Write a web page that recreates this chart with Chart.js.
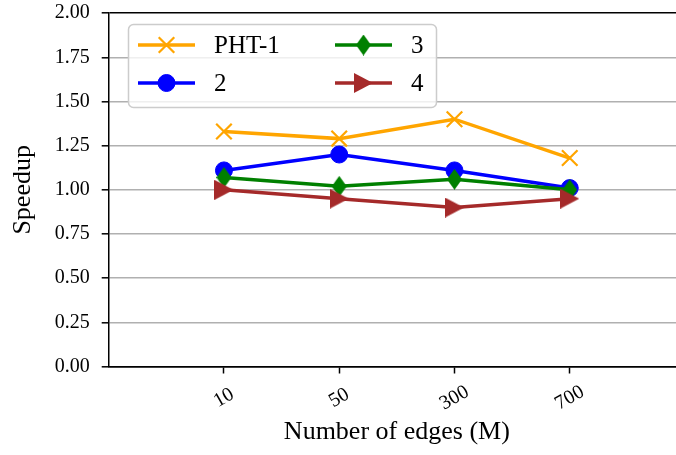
<!DOCTYPE html>
<html>
<head>
<meta charset="utf-8">
<script src="https://cdn.jsdelivr.net/npm/chart.js@4"></script>
<style>
  html, body { margin: 0; padding: 0; background: #fff; overflow: hidden; }
  #wrap { width: 700px; height: 455px; }
</style>
</head>
<body>
<div id="wrap"><canvas id="speedup" width="700" height="455"></canvas></div>
<script>
// edge counts (millions) and their positions on the x axis
const EDGE_LABELS = ['10', '50', '300', '700'];
const EDGE_POS = [1, 2, 3, 4];
const Y_TICKS = [0, 0.25, 0.5, 0.75, 1, 1.25, 1.5, 1.75, 2];

// speedup per configuration
const PHT1 = [1.33, 1.29, 1.40, 1.18];
const SP2 = [1.11, 1.20, 1.11, 1.01];
const SP3 = [1.07, 1.02, 1.06, 1.00];
const SP4 = [1.00, 0.95, 0.90, 0.95];

const SERIF = '"Liberation Serif", "DejaVu Serif", serif';
Chart.defaults.font.family = SERIF;
Chart.defaults.color = '#000';

// matplotlib-style thin diamond and right-pointing triangle markers
function markerCanvas(w, h, color, pts) {
  const c = document.createElement('canvas');
  c.width = w; c.height = h;
  const g = c.getContext('2d');
  g.fillStyle = color;
  g.beginPath();
  pts.forEach(([px, py], i) => i ? g.lineTo(px, py) : g.moveTo(px, py));
  g.closePath();
  g.fill();
  return c;
}
const thinDiamond = markerCanvas(15, 21, '#008000', [[7.5, 0], [15, 10.5], [7.5, 21], [0, 10.5]]);
const triRight = markerCanvas(19, 20, '#a52a2a', [[0, 0], [19, 10], [0, 20]]);

const pts = arr => EDGE_POS.map((x, i) => ({ x, y: arr[i] }));

function series(label, data, color, style, radius, order) {
  return {
    label, data: pts(data), order,
    borderColor: color, backgroundColor: color,
    borderWidth: 3.5,
    pointStyle: style, pointRadius: radius, pointHoverRadius: radius,
    pointBackgroundColor: color, pointBorderColor: color, pointBorderWidth: style === 'crossRot' ? 2.2 : 1,
  };
}

const datasets = [
  series('PHT-1', PHT1, '#ffa500', 'crossRot', 11, 4),
  series('2', SP2, '#0000ff', 'circle', 8.5, 3),
  series('3', SP3, '#008000', thinDiamond, 10, 2),
  series('4', SP4, '#a52a2a', triRight, 10, 1),
];

// rotated category labels centred under each tick
const edgeLabels = {
  id: 'edgeLabels',
  afterDraw(chart) {
    const { ctx, scales: { x } } = chart;
    ctx.save();
    ctx.font = '20px ' + SERIF;
    ctx.fillStyle = '#000';
    ctx.textAlign = 'center';
    ctx.textBaseline = 'middle';
    EDGE_POS.forEach((p, i) => {
      ctx.save();
      ctx.translate(x.getPixelForValue(p), 398);
      ctx.rotate(-Math.PI / 6);
      ctx.fillText(EDGE_LABELS[i], 0, 0);
      ctx.restore();
    });
    ctx.restore();
  }
};

// two-column legend, filled column by column
const legendBox = {
  id: 'legendBox',
  afterDraw(chart) {
    const ctx = chart.ctx;
    const cols = [138, 335];
    const rows = [45, 83];
    ctx.save();
    ctx.beginPath();
    ctx.roundRect(128.5, 24.5, 308, 83, 5);
    ctx.fillStyle = 'rgba(255,255,255,0.8)';
    ctx.fill();
    ctx.strokeStyle = '#cccccc';
    ctx.lineWidth = 1.5;
    ctx.stroke();
    chart.data.datasets.forEach((ds, i) => {
      const x0 = cols[Math.floor(i / 2)];
      const y = rows[i % 2];
      ctx.strokeStyle = ds.borderColor;
      ctx.lineWidth = ds.borderWidth;
      ctx.beginPath();
      ctx.moveTo(x0, y);
      ctx.lineTo(x0 + 57, y);
      ctx.stroke();
      ctx.fillStyle = ds.pointBackgroundColor;
      ctx.strokeStyle = ds.pointBorderColor;
      ctx.lineWidth = ds.pointBorderWidth;
      Chart.helpers.drawPoint(ctx, {
        pointStyle: ds.pointStyle, radius: ds.pointRadius,
        borderWidth: ds.pointBorderWidth, rotation: 0
      }, x0 + 28.5, y);
      ctx.fillStyle = '#000';
      ctx.font = '25px ' + SERIF;
      ctx.textAlign = 'left';
      ctx.textBaseline = 'middle';
      ctx.fillText(ds.label, x0 + 76, y + 1);
    });
    ctx.restore();
  }
};

new Chart(document.getElementById('speedup'), {
  type: 'line',
  data: { datasets },
  plugins: [edgeLabels, legendBox],
  options: {
    responsive: false,
    animation: false,
    layout: { padding: { top: 12, right: 15, left: 0, bottom: 0 } },
    plugins: { legend: { display: false }, tooltip: { enabled: false } },
    scales: {
      x: {
        type: 'linear',
        min: 0, max: 5,
        afterBuildTicks: s => { s.ticks = EDGE_POS.map(v => ({ value: v })); },
        afterFit: s => { s.height = 88.5; },
        ticks: { display: false },
        grid: { drawOnChartArea: false, drawTicks: true, tickLength: 7, tickColor: '#000', tickWidth: 1.5 },
        border: { color: '#000', width: 1.5 },
        title: { display: true, text: 'Number of edges (M)', font: { size: 26 }, padding: { top: 0, bottom: 7 } },
      },
      y: {
        min: 0, max: 2,
        afterBuildTicks: s => { s.ticks = Y_TICKS.map(v => ({ value: v })); },
        afterFit: s => { s.width = 108.7; s.paddingTop = 0; s.paddingBottom = 0; },
        ticks: { font: { size: 20 }, padding: 12, callback: v => v.toFixed(2) },
        grid: {
          color: c => (c.tick && (c.tick.value === 2 || c.tick.value === 0)) ? '#000' : '#b0b0b0',
          lineWidth: 1.6,
          tickColor: '#000', tickLength: 7, tickWidth: 1.5,
        },
        border: { color: '#000', width: 1.5 },
        title: { display: true, text: 'Speedup', font: { size: 26 }, padding: { top: 8, bottom: 0 } },
      },
    },
  },
});
</script>
</body>
</html>
